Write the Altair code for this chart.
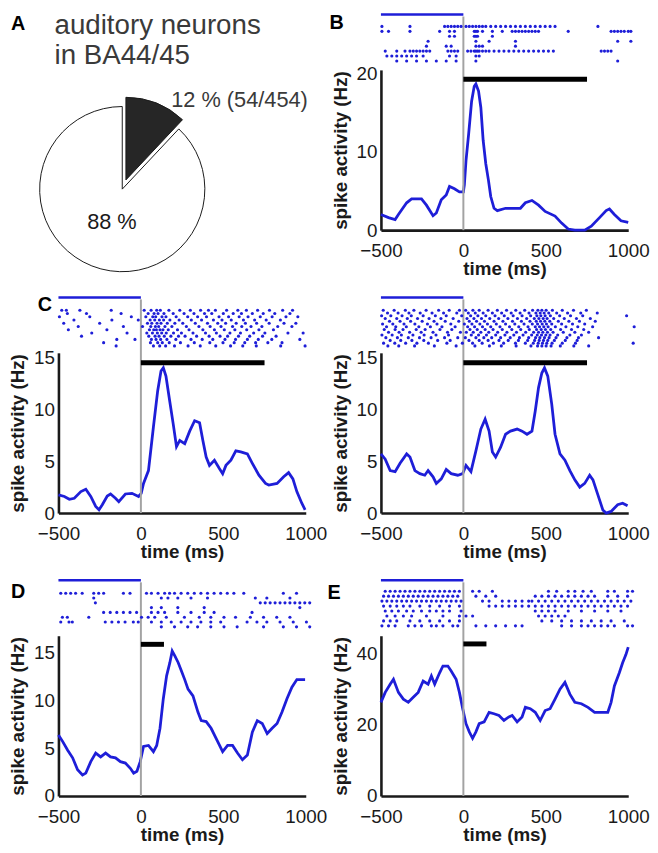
import altair as alt
import pandas as pd

FONT = "Liberation Sans"
BLUE = "#1e1ed8"
GRAY = "#a3a3a3"
INK = "#1a1a1a"
TEXT_GRAY = "#3a3a3a"

W = 250
RASTER_H = 57
PSTH_H = 162
H = RASTER_H + PSTH_H

X_TICKS = [-500, 0, 500, 1000]

# ---------------- Panel A ----------------
PIE_GROUPS = ["auditory", "other"]
PIE_PERCENT = [12, 88]
PIE_TEXT = ["12 % (54/454)", "88 %"]
TITLE_LINES = ["auditory neurons", "in BA44/45"]

# ---------------- PSTH curves ----------------
B_TIME = [-500, -454, -414, -394, -344, -314, -254, -224, -184, -164, -134, -104, -84, -54, -24, 0, 6, 16, 32,
          50, 66, 76, 92, 106, 120, 136, 152, 166, 186, 206, 256, 316, 346, 376, 416, 456, 496, 556, 596, 636,
          676, 736, 776, 826, 866, 886, 916, 956, 1000]
B_RATE = [2.0, 1.6, 1.35, 2.0, 3.5, 4.0, 4.0, 3.2, 1.85, 2.2, 3.9, 4.5, 5.6, 5.3, 4.9, 4.9, 5.8, 8.9, 12.3,
          16.5, 18.4, 18.7, 17.8, 15.7, 11.5, 8.5, 6.4, 4.3, 2.8, 2.5, 2.8, 2.8, 2.8, 3.5, 3.8, 3.2, 2.4, 1.8,
          0.9, 0.15, 0, 0, 0.5, 1.6, 2.5, 2.7, 2.0, 1.2, 1.0]

C1_TIME = [-500, -464, -434, -404, -364, -334, -304, -274, -254, -234, -204, -184, -154, -134, -94, -54, -14, 2,
           16, 46, 76, 102, 122, 136, 152, 172, 196, 216, 236, 266, 296, 326, 356, 376, 396, 416, 446, 476, 496,
           516, 546, 576, 606, 646, 676, 716, 756, 776, 826, 866, 896, 922, 946, 976, 996]
C1_RATE = [1.75, 1.6, 1.33, 1.43, 2.07, 2.3, 1.6, 0.64, 0.32, 0.8, 1.65, 1.84, 1.43, 1.1, 1.84, 1.9, 1.6, 1.9,
           2.86, 4.1, 8.3, 11.8, 13.7, 14.0, 13.2, 11.1, 8.6, 6.4, 7.0, 6.7, 7.9, 8.9, 8.7, 7.0, 5.4, 4.6, 5.1,
           4.3, 3.8, 4.6, 5.1, 6.0, 5.9, 5.7, 4.8, 3.65, 2.86, 2.7, 2.86, 3.5, 3.9, 3.3, 2.07, 0.95, 0.32]

C2_TIME = [-500, -474, -444, -414, -384, -344, -324, -294, -264, -234, -214, -184, -164, -134, -104, -74, -34,
           -4, 16, 46, 76, 106, 132, 156, 176, 196, 226, 256, 286, 326, 356, 386, 416, 436, 456, 476, 492, 512,
           536, 556, 586, 616, 646, 676, 706, 736, 766, 786, 816, 846, 866, 896, 936, 966, 996]
C2_RATE = [5.7, 5.2, 4.1, 4.0, 4.8, 5.7, 5.4, 4.1, 3.8, 3.65, 4.1, 3.5, 2.86, 3.3, 4.2, 3.8, 3.65, 3.8, 4.6,
           4.0, 6.0, 8.1, 9.05, 7.9, 5.9, 5.4, 6.35, 7.6, 7.9, 8.1, 7.9, 7.6, 7.9, 9.85, 12.1, 13.5, 14.0, 13.2,
           10.5, 7.6, 5.7, 5.1, 4.1, 3.2, 2.5, 2.86, 3.65, 3.2, 1.75, 0.3, 0, 0.16, 0.8, 0.95, 0.7]

D_TIME = [-500, -474, -444, -414, -384, -354, -334, -304, -274, -244, -214, -184, -154, -124, -94, -64, -44, -24,
          -4, 16, 46, 76, 96, 116, 136, 156, 176, 190, 206, 226, 246, 266, 286, 316, 346, 366, 396, 426, 466,
          496, 526, 556, 586, 616, 646, 676, 706, 736, 766, 796, 826, 856, 886, 916, 946, 976, 996]
D_RATE = [6.4, 5.7, 4.8, 4.0, 2.75, 2.2, 2.4, 3.6, 4.5, 4.1, 4.5, 4.1, 4.0, 3.6, 3.45, 2.9, 2.4, 2.6, 3.6, 5.2,
          5.3, 4.65, 5.3, 7.1, 10.2, 12.6, 14.0, 15.2, 14.7, 14.0, 13.1, 12.2, 11.2, 10.5, 8.8, 7.9, 7.8, 7.1,
          5.7, 4.65, 5.3, 5.3, 4.5, 3.8, 4.3, 6.7, 7.9, 7.6, 6.55, 7.1, 7.6, 8.8, 10.2, 11.4, 12.2, 12.2, 12.2]

E_TIME = [-500, -474, -444, -424, -394, -364, -334, -304, -274, -244, -214, -194, -174, -144, -124, -94, -74,
          -44, -24, -4, 16, 36, 56, 76, 96, 126, 156, 186, 216, 246, 276, 296, 326, 356, 376, 406, 436, 466, 496,
          526, 556, 586, 616, 646, 676, 716, 756, 796, 836, 876, 896, 916, 946, 966, 986, 1000]
E_RATE = [26.3, 29.1, 31.4, 32.8, 29.1, 27.2, 26.3, 27.7, 29.1, 32.3, 31.4, 33.7, 31.4, 34.6, 36.5, 36.5, 35.1,
          32.8, 29.1, 24.5, 20.3, 18.0, 16.2, 18.0, 20.3, 20.8, 23.5, 23.1, 22.6, 21.2, 22.2, 22.6, 20.8, 22.2,
          24.9, 24.5, 23.5, 21.2, 24.0, 24.5, 27.2, 30.0, 31.9, 28.6, 26.3, 25.9, 24.9, 23.5, 23.5, 23.5, 26.3,
          30.9, 34.6, 37.4, 39.7, 41.8]

# ---------------- Spike rasters (spike times per trial row, ms) ----------------
B_RASTER = [
    [-494, -324, -114, -94, -74, -54, -34, -14, 16, 36, 56, 76, 96, 116, 136, 166, 196, 226, 256, 286, 316, 346,
     376, 406, 436, 466, 496, 526, 556, 816],
    [-494, -454, -324, -144, -84, -54, 66, 76, 86, 116, 176, 236, 296, 316, 336, 356, 376, 396, 416, 436, 456,
     636, 896, 916, 936, 956, 976, 1000, 1016],
    [-84, -54, 66, 76, 86, 176],
    [-214, 76, 156, 316, 936, 1016],
    [-224, -104, -74, 76, 96, 116, 316],
    [-474, -404, -354, -324, -304, -284, -264, -244, -224, -204, -94, -74, -54, -34, 26, 46, 66, 76, 86, 96, 116,
     136, 156, 186, 216, 246, 276, 306, 336, 366, 396, 426, 456, 486, 516, 546, 836, 856, 876, 896],
    [-464, -434, -404, -374, -344, -314, -284, -244, -84, -44, 76, 96],
    [-404, -344, -284, -224, -164, -104, -44, 76, 936],
]
C1_RASTER = [
    [-480, -452, -370, -180, 20, 62, 96, 118, 170, 236, 300, 362, 410, 452, 520, 588, 640, 708, 780, 860, 920],
    [-446, -330, -120, 44, 80, 104, 140, 196, 262, 322, 386, 430, 500, 560, 610, 676, 742, 812, 904],
    [-494, -310, -58, 30, 72, 90, 128, 152, 214, 284, 344, 398, 474, 532, 596, 650, 724, 796, 880, 952],
    [-406, -176, -16, 56, 84, 112, 138, 176, 232, 306, 368, 440, 492, 548, 622, 690, 760, 846],
    [-468, -250, 40, 66, 98, 122, 160, 206, 254, 330, 404, 466, 514, 578, 634, 702, 778, 868, 940],
    [-380, -106, 10, 60, 88, 108, 146, 188, 276, 352, 420, 486, 556, 612, 668, 734, 830, 916],
    [-440, -206, 52, 78, 94, 116, 134, 166, 222, 292, 376, 446, 506, 570, 642, 716, 804],
    [-298, -84, 36, 70, 100, 126, 154, 198, 246, 316, 392, 458, 540, 604, 684, 752, 892, 984],
    [-360, 48, 86, 110, 142, 182, 228, 268, 338, 414, 480, 526, 592, 660, 738, 820],
    [-146, -36, 64, 92, 120, 158, 212, 304, 372, 436, 510, 574, 646, 712, 794, 964],
    [-226, 58, 102, 130, 172, 240, 324, 418, 498, 566, 630, 696, 770, 856],
    [-150, 76, 114, 150, 204, 286, 360, 454, 544, 618, 700, 848, 996],
]
C2_RASTER = [
    [-486, -420, -352, -300, -226, -150, -86, -24, 14, 58, 96, 150, 206, 262, 318, 372, 420, 452, 476, 502, 540,
     600, 668, 746],
    [-460, -396, -330, -262, -190, -120, -40, 30, 72, 120, 176, 232, 290, 344, 398, 440, 466, 490, 518, 566, 632,
     712, 812],
    [-496, -440, -372, -316, -244, -170, -104, -10, 44, 88, 136, 192, 248, 302, 356, 408, 446, 470, 496, 528, 584,
     650, 724, 990],
    [-474, -404, -340, -278, -208, -136, -62, 22, 64, 110, 160, 214, 270, 328, 384, 430, 458, 484, 508, 548, 612,
     686, 770],
    [-448, -384, -320, -250, -178, -110, -28, 36, 80, 128, 186, 240, 298, 352, 404, 442, 468, 494, 524, 576, 640,
     704, 800],
    [-490, -428, -360, -294, -218, -160, -76, 6, 52, 100, 146, 200, 256, 312, 368, 418, 450, 478, 504, 536, 596,
     662, 736],
    [-466, -410, -346, -270, -200, -130, -50, 26, 68, 116, 166, 222, 280, 336, 392, 436, 462, 488, 514, 558, 622,
     694, 784, 1036],
    [-480, -414, -366, -286, -232, -142, -70, 40, 84, 132, 180, 236, 294, 348, 400, 444, 472, 498, 530, 590, 656,
     730],
    [-454, -390, -326, -256, -184, -96, -18, 18, 60, 106, 154, 208, 264, 322, 378, 426, 456, 482, 510, 544, 606,
     676, 760],
    [-494, -432, -376, -306, -238, -166, -90, 48, 92, 140, 196, 252, 306, 362, 414, 448, 474, 500, 526, 572, 646,
     716],
    [-470, -400, -334, -266, -196, -114, -34, 12, 76, 124, 172, 226, 284, 340, 396, 438, 464, 492, 520, 562, 628,
     698, 820],
    [-444, -380, -312, -240, -156, -80, 34, 96, 150, 216, 272, 334, 390, 432, 460, 486, 512, 552, 618, 690],
    [-484, -416, -350, -282, -212, -100, -6, 56, 114, 182, 244, 316, 376, 424, 454, 480, 506, 538, 600, 680, 1030],
    [-458, -392, -296, -176, -44, 70, 158, 230, 320, 410, 450, 476, 502, 532, 588, 670, 760],
]
D_RASTER = [
    [-486, -456, -426, -396, -356, -286, -256, -226, -106, -66, 34, 64, 104, 144, 174, 204, 244, 284, 324, 364,
     404, 444, 484, 524, 564, 624, 864, 944],
    [-286, 124, 164, 224, 304, 404, 694, 764, 904],
    [-276, 724, 754, 784, 814, 844, 874, 904, 934, 964, 994, 1024],
    [64, 124, 224, 384, 964],
    [-226, -186, -146, -106, -66, -26, 64, 104, 144, 224, 304, 384, 444, 674],
    [-476, -446, -316, 4, 44, 84, 154, 264, 354, 424, 504, 574, 664, 744, 824, 904],
    [-486, -436, -416, -216, -176, -136, -96, -46, -16, 64, 124, 184, 244, 304, 364, 424, 484, 644, 704, 764,
     844, 924, 1004],
    [124, 204, 284, 344, 424, 504, 584, 744, 864, 944, 1024],
]
E_RASTER = [
    [-474, -444, -414, -384, -354, -324, -294, -264, -234, -204, -174, -144, -114, -84, -54, -24, 56, 96, 176,
     516, 566, 636, 676, 726, 776, 876, 916, 996, 1026],
    [-484, -454, -424, -394, -364, -334, -304, -274, -244, -214, -184, -154, -124, -94, -64, -34, 76, 136, 196,
     436, 476, 516, 556, 596, 636, 676, 716, 756, 796, 876, 936, 996],
    [-494, -464, -434, -404, -374, -344, -314, -284, -254, -224, -194, -164, -134, -104, -74, -44, -14, 116, 156,
     236, 276, 316, 356, 396, 416, 456, 496, 536, 576, 616, 656, 696, 736, 776, 816, 856, 896, 936, 976, 1016],
    [-484, -444, -404, -364, -324, -264, -204, -144, -84, -24, 156, 196, 236, 276, 316, 356, 396, 436, 476, 516,
     556, 596, 636, 676, 716, 756, 796, 836, 876, 916, 956, 996],
    [-474, -434, -394, -344, -304, -254, -204, -164, -124, -84, -14, 436, 476, 516, 556, 636, 716, 796, 876, 956],
    [-464, -414, -364, -314, -224, -124, -24, 16, 56, 456, 496, 536, 576, 616],
    [-484, -444, -404, -324, -264, -204, -144, -84, -24, 476, 536, 596, 656, 716, 776, 836, 896, 976],
    [-494, -454, -414, -334, -294, -254, -194, -164, -124, -64, -34, 76, 136, 196, 256, 316, 356, 596, 656, 716,
     756, 796, 836, 876, 916, 996, 1026],
]

XS = alt.Scale(domain=[-500, 1000], nice=False, zero=False)
XAXIS = alt.Axis(values=X_TICKS, title="time (ms)", labelPadding=12, titleY=45,
                 titleBaseline="alphabetic", format="d")


def label_layer(txt, lx, ly):
    return alt.Chart(pd.DataFrame({"txt": [txt]})).mark_text(
        font=FONT, fontSize=20, fontWeight="bold", align="left", baseline="alphabetic", color="black"
    ).encode(text="txt:N", x=alt.value(lx), y=alt.value(ly))


def panel(time, rate, raster, ymax, yticks, bar_end, bar_y, rows_px, label=None, lx=0, ly=0):
    ys = alt.Scale(domain=[0, ymax], range=[H, RASTER_H], nice=False, zero=False)
    yaxis = alt.Axis(values=yticks, title="spike activity (Hz)", labelPadding=4, titleX=-31, format="d")

    curve = pd.DataFrame(list(zip(time, rate)), columns=["t", "rate"])
    zero_df = pd.DataFrame({"t": [0]})
    stim_df = pd.DataFrame({"t": [0], "e": [bar_end], "rate": [bar_y]})
    base_df = pd.DataFrame({"t": [-500], "e": [0]})
    spikes = pd.DataFrame([(t, i + 1) for i, row in enumerate(raster) for t in row], columns=["t", "trial"])

    X = alt.X("t:Q", scale=XS, axis=XAXIS)
    Y = alt.Y("rate:Q", scale=ys, axis=yaxis)

    line = alt.Chart(curve).mark_line(color=BLUE, strokeWidth=2.8).encode(x=X, y=Y)
    gray = alt.Chart(zero_df).mark_rule(color=GRAY, strokeWidth=2).encode(
        x=X, y=alt.value(3), y2=alt.value(H))
    stim = alt.Chart(stim_df).mark_rule(color="black", strokeWidth=5).encode(x=X, x2="e:Q", y=Y)
    base = alt.Chart(base_df).mark_rule(color=BLUE, strokeWidth=2.5).encode(x=X, x2="e:Q", y=alt.value(1))
    layers = [line, gray, stim, base]
    if label:
        layers.append(label_layer(label, lx, ly))
    psth = alt.layer(*layers)

    dots = alt.Chart(spikes).mark_circle(size=10, color=BLUE, opacity=1).encode(
        x=X,
        y=alt.Y("trial:Q", scale=alt.Scale(domain=[1, len(raster)], range=rows_px, nice=False, zero=False),
                axis=None))
    return alt.layer(psth, dots).resolve_scale(y="independent").properties(width=W, height=H)


# ---------------- Panel A chart ----------------
pie_df = pd.DataFrame({"group": PIE_GROUPS, "pct": PIE_PERCENT})
pie_df["end"] = pie_df["pct"].cumsum()
pie_df["start"] = pie_df["end"] - pie_df["pct"]
theta_scale = alt.Scale(domain=[0, 100])

white = alt.Chart(pie_df[pie_df.group == "other"]).mark_arc(
    radius=83.5, fill="white", stroke=INK, strokeWidth=1
).encode(theta=alt.Theta("start:Q", scale=theta_scale), theta2="end:Q", x=alt.value(64.5), y=alt.value(177.5))
dark = alt.Chart(pie_df[pie_df.group == "auditory"]).mark_arc(
    radius=83.5, fill="#262626", stroke=INK, strokeWidth=1
).encode(theta=alt.Theta("start:Q", scale=theta_scale), theta2="end:Q", x=alt.value(68.2), y=alt.value(168.2))


def plain_text(txt, x, y, size, color):
    return alt.Chart(pd.DataFrame({"txt": [txt]})).mark_text(
        font=FONT, fontSize=size, align="left", baseline="alphabetic", color=color
    ).encode(text="txt:N", x=alt.value(x), y=alt.value(y))


panel_a = alt.layer(
    white, dark,
    plain_text(TITLE_LINES[0], -4, 21, 28, TEXT_GRAY),
    plain_text(TITLE_LINES[1], -4, 51.5, 28, TEXT_GRAY),
    plain_text(PIE_TEXT[0], 114, 94, 22, TEXT_GRAY),
    plain_text(PIE_TEXT[1], 29, 218, 22, INK),
    label_layer("A", -48, 17),
).properties(width=W, height=H)

panel_b = panel(B_TIME, B_RATE, B_RASTER, 20.5, [0, 10, 20], 750, 19.3, [13, 48], "B", -52, 16)
panel_c1 = panel(C1_TIME, C1_RATE, C1_RASTER, 15.45, [0, 5, 10, 15], 750, 14.5, [14, 50], "C", -21, 15)
panel_c2 = panel(C2_TIME, C2_RATE, C2_RASTER, 15.45, [0, 5, 10, 15], 750, 14.5, [14, 50])
panel_d = panel(D_TIME, D_RATE, D_RASTER, 16.8, [0, 5, 10, 15], 140, 15.9, [14, 48], "D", -48, 19)
panel_e = panel(E_TIME, E_RATE, E_RASTER, 45, [0, 20, 40], 140, 42.7, [12, 47], "E", -54, 20)

chart = alt.concat(
    panel_a, panel_b, panel_c1, panel_c2, panel_d, panel_e,
    columns=2, spacing={"row": 67, "column": 76}, bounds="flush"
).properties(padding={"left": 1, "top": 0, "right": 0, "bottom": 0}).configure(font=FONT).configure_view(
    strokeWidth=0
).configure_axis(
    labelFont=FONT, labelFontSize=19, labelColor=INK,
    titleFont=FONT, titleFontSize=19, titleFontWeight="bold", titleColor=INK,
    domainColor=INK, domainWidth=2.6, ticks=False, tickSize=0, grid=False,
    labelFlush=False, labelOverlap=False,
)

chart.save("out.html", embed_options={"renderer": "svg", "actions": False})
